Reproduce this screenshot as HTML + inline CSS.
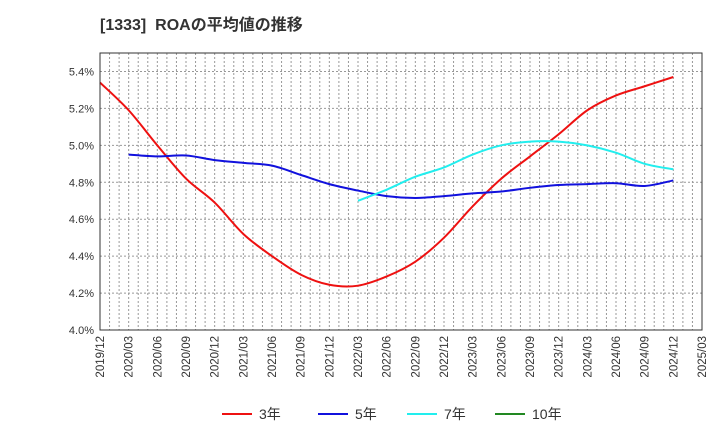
<!DOCTYPE html>
<html><head><meta charset="utf-8"><style>
body{margin:0;background:#fff;font-family:"Liberation Sans","Noto Sans CJK JP",sans-serif}
</style></head><body>
<svg id="c" width="720" height="440" xmlns="http://www.w3.org/2000/svg">
<text x="100" y="30" font-size="16" font-weight="bold" fill="#333" xml:space="preserve" style="white-space:pre" font-family="Liberation Sans,Noto Sans CJK JP,sans-serif">[1333]  ROAの平均値の推移</text>
<g id="grid"></g><g id="series"></g><g id="axes"></g><g id="legend"></g>
</svg>
<script>
const xLabels=["2019/12","2020/03","2020/06","2020/09","2020/12","2021/03","2021/06","2021/09","2021/12","2022/03","2022/06","2022/09","2022/12","2023/03","2023/06","2023/09","2023/12","2024/03","2024/06","2024/09","2024/12","2025/03"];
const yTicks=[4.0,4.2,4.4,4.6,4.8,5.0,5.2,5.4];
const s3=[5.34,5.19,5.00,4.82,4.69,4.52,4.40,4.30,4.245,4.24,4.29,4.37,4.50,4.67,4.82,4.94,5.06,5.19,5.27,5.32,5.37];
const s5=[4.95,4.94,4.945,4.92,4.905,4.89,4.84,4.79,4.755,4.725,4.715,4.725,4.74,4.75,4.77,4.785,4.79,4.795,4.78,4.81];
const s7=[4.70,4.76,4.83,4.88,4.95,5.00,5.02,5.02,5.00,4.96,4.90,4.87];
const s10=[];
const L=100,R=702,T=53,B=330,yMin=4.0,yMax=5.5;
const NS="http://www.w3.org/2000/svg";
const xq=i=>L+(R-L)*i/(xLabels.length-1);
const y=v=>B-(v-yMin)/(yMax-yMin)*(B-T);
function mk(t,a,p){const e=document.createElementNS(NS,t);for(const k in a)e.setAttribute(k,a[k]);p.appendChild(e);return e;}
const g=document.getElementById('grid'),ax=document.getElementById('axes'),sg=document.getElementById('series'),lg=document.getElementById('legend');
for(let m=1;m<(xLabels.length-1)*3;m++){const x=L+(R-L)*m/((xLabels.length-1)*3);
const l=mk('line',{x1:x,x2:x,y1:T,y2:B,stroke:'#999','stroke-dasharray':'2,2','stroke-width':1},g);

}
yTicks.forEach(v=>{if(v>yMin){const l=mk('line',{x1:L,x2:R,y1:y(v),y2:y(v),stroke:'#999','stroke-dasharray':'2,2'},g);

}
const t=mk('text',{x:L-6,y:y(v)+4,'text-anchor':'end','font-size':11,fill:'#333'},ax);t.textContent=v.toFixed(1)+'%';

});
xLabels.forEach((lb,i)=>{const t=mk('text',{x:0,y:0,'font-size':11.5,fill:'#333','text-anchor':'end',transform:`translate(${xq(i)+4},${B+6}) rotate(-90)`},ax);t.textContent=lb;

});
const fr=mk('rect',{x:L,y:T,width:R-L,height:B-T,fill:'none',stroke:'#333'},ax);


function path(vals,off){const p=vals.map((v,i)=>[xq(i+off),y(v)]);let d=`M${p[0][0]},${p[0][1]}`;
for(let i=0;i<p.length-1;i++){const p0=p[i-1]||p[i],p1=p[i],p2=p[i+1],p3=p[i+2]||p2;
d+=` C${p1[0]+(p2[0]-p0[0])/6},${p1[1]+(p2[1]-p0[1])/6} ${p2[0]-(p3[0]-p1[0])/6},${p2[1]-(p3[1]-p1[1])/6} ${p2[0]},${p2[1]}`;}return d;}
const series=[["3年",s3,0,"#ee1111"],["5年",s5,1,"#1111dd"],["7年",s7,9,"#22eeee"],["10年",s10,0,"#228822"]];
series.forEach(([n,v,o,c])=>{if(v.length){const e=mk('path',{d:path(v,o),fill:'none',stroke:c,'stroke-width':2},sg);

}});
const lx=[222,318,407,495];
series.forEach(([n,v,o,c],i)=>{const l=mk('line',{x1:lx[i],x2:lx[i]+30,y1:414,y2:414,stroke:c,'stroke-width':2},lg);


const t=mk('text',{x:lx[i]+37,y:419,'font-size':14,fill:'#333'},lg);t.textContent=n;

});
</script>
</body></html>
